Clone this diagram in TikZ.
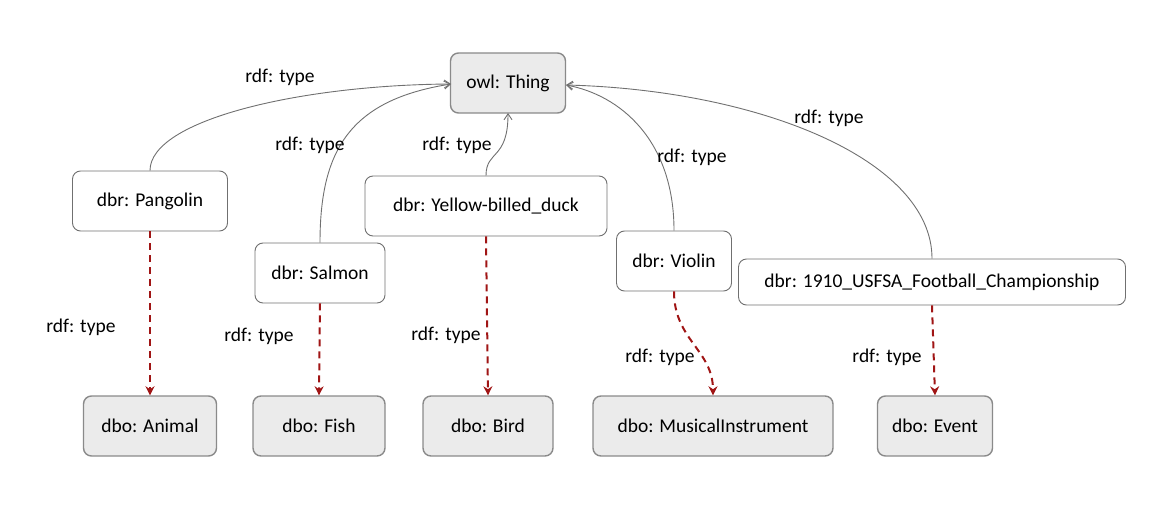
\documentclass[tikz,border=0pt]{standalone}
\usepackage{fontspec}
\setmainfont{Carlito}
\usetikzlibrary{arrows.meta}
\definecolor{boxgray}{HTML}{EBEBEB}
\definecolor{edgegray}{HTML}{8A8A8A}
\definecolor{linegray}{HTML}{707070}
\definecolor{darkred}{HTML}{A01515}
\begin{document}
\begin{tikzpicture}[x=1pt,y=-1pt,
  inst/.style={draw=linegray,fill=white,rounded corners=8pt,line width=0.9pt,inner sep=0pt,font=\fontsize{19.5}{23}\selectfont,minimum height=60pt},
  cls/.style={draw=edgegray,fill=boxgray,rounded corners=8pt,line width=1.4pt,inner sep=0pt,font=\fontsize{19.5}{23}\selectfont,minimum height=60pt},
  typeedge/.style={draw=linegray,line width=0.9pt,-{Straight Barb[length=6pt,width=8pt]}},
  classedge/.style={draw=darkred,line width=2pt,dash pattern=on 7pt off 5pt,-{Stealth[length=9pt,width=9pt]}},
  lbl/.style={font=\fontsize{19.5}{23}\selectfont,inner sep=0pt}]
\useasboundingbox (0,0) rectangle (1153,527);
\node[cls,minimum width=115pt] (thing) at (508,83) {owl: Thing};
\node[inst,minimum width=155pt] (pangolin) at (150,201) {dbr: Pangolin};
\node[inst,minimum width=130pt] (salmon) at (320,273) {dbr: Salmon};
\node[inst,minimum width=242pt] (duck) at (486,206) {dbr: Yellow-billed\_duck};
\node[inst,minimum width=115pt] (violin) at (674,261) {dbr: Violin};
\node[inst,minimum width=387pt,minimum height=46pt] (usfsa) at (932,282) {dbr: 1910\_USFSA\_Football\_Championship};
\node[cls,minimum width=133pt] (animal) at (150,426) {dbo: Animal};
\node[cls,minimum width=132pt] (fish) at (319,426) {dbo: Fish};
\node[cls,minimum width=130pt] (bird) at (488,426) {dbo: Bird};
\node[cls,minimum width=240pt] (music) at (713,426) {dbo: MusicalInstrument};
\node[cls,minimum width=115pt] (event) at (935,426) {dbo: Event};
\coordinate (thingL) at (451,84);
\coordinate (thingR) at (566,85);
\coordinate (thingB) at (508,113);
\draw[typeedge] (pangolin.north) .. controls (150,120) and (300,85) .. (thingL);
\draw[typeedge] (salmon.north) .. controls (320,150) and (350,100) .. (thingL);
\draw[typeedge] (duck.north) .. controls (486,150) and (508,160) .. (thingB);
\draw[typeedge] (violin.north) .. controls (674,140) and (620,95) .. (thingR);
\draw[typeedge] (usfsa.north) .. controls (932,160) and (760,90) .. (thingR);
\draw[classedge] (pangolin.south) -- (animal.north);
\draw[classedge] (salmon.south) -- (fish.north);
\draw[classedge] (duck.south) -- (bird.north);
\draw[classedge] (violin.south) .. controls (674,340) and (713,350) .. (music.north);
\draw[classedge] (usfsa.south) -- (event.north);
\node[lbl] (l1) at (280,77) {rdf: type};
\node[lbl] (l2) at (310,145) {rdf: type};
\node[lbl] (l3) at (457,145) {rdf: type};
\node[lbl] (l4) at (692,157) {rdf: type};
\node[lbl] (l5) at (829,118) {rdf: type};
\node[lbl] (l6) at (81,327) {rdf: type};
\node[lbl] (l7) at (259,336) {rdf: type};
\node[lbl] (l8) at (446,335) {rdf: type};
\node[lbl] (l9) at (660,357) {rdf: type};
\node[lbl] (l10) at (887,357) {rdf: type};
\end{tikzpicture}
\end{document}
